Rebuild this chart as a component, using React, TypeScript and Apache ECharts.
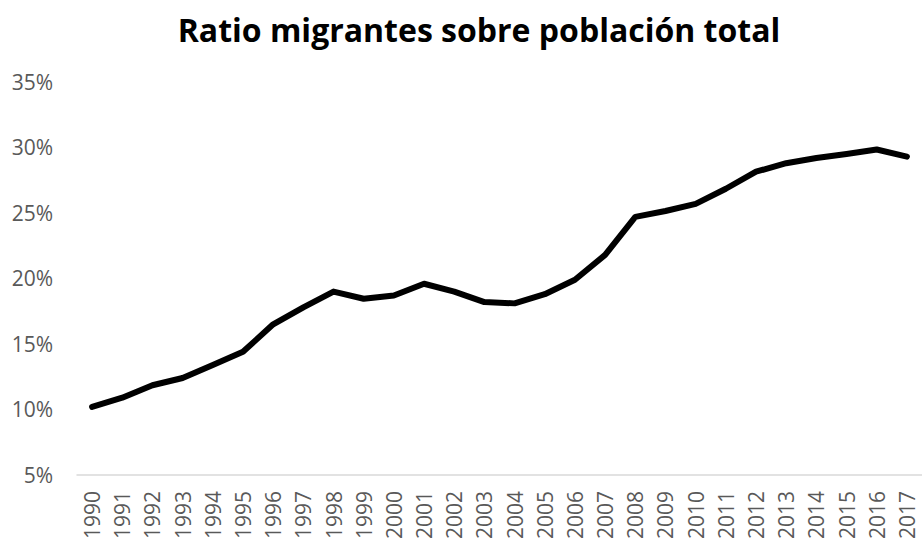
import React, { useEffect, useRef } from "react";
import * as echarts from "echarts";

const years = [
  "1990", "1991", "1992", "1993", "1994", "1995", "1996", "1997", "1998", "1999",
  "2000", "2001", "2002", "2003", "2004", "2005", "2006", "2007", "2008", "2009",
  "2010", "2011", "2012", "2013", "2014", "2015", "2016", "2017",
];
const ratio = [
  10.2, 10.9, 11.85, 12.4, 13.4, 14.4, 16.5, 17.8, 19.0, 18.45,
  18.7, 19.6, 19.0, 18.2, 18.1, 18.8, 19.9, 21.8, 24.7, 25.15,
  25.7, 26.85, 28.15, 28.8, 29.2, 29.5, 29.85, 29.3,
];
const titleText = "Ratio migrantes sobre población total";

export default function App() {
  const ref = useRef<HTMLDivElement>(null);
  useEffect(() => {
    if (!ref.current) return;
    const chart = echarts.init(ref.current, null, { renderer: "svg" });
    chart.setOption({
      animation: false,
      backgroundColor: "#ffffff",
      title: {
        text: titleText,
        left: 474,
        textAlign: "center",
        top: 8,
        textStyle: {
          fontFamily: "Open Sans",
          fontWeight: "bold",
          fontSize: 32,
          color: "#000000",
        },
      },
      grid: { left: 77, right: -5, top: 82, bottom: 66, containLabel: false },
      xAxis: {
        type: "category",
        data: years,
        boundaryGap: true,
        axisLine: { show: true, lineStyle: { color: "#d9d9d9", width: 1.5 } },
        axisTick: { show: false },
        axisLabel: {
          rotate: 90,
          interval: 0,
          margin: 16,
          color: "#595959",
          fontFamily: "Open Sans",
          fontSize: 21,
        },
        splitLine: { show: false },
      },
      yAxis: {
        type: "value",
        min: 5,
        max: 35,
        interval: 5,
        axisLine: { show: false },
        axisTick: { show: false },
        splitLine: { show: false },
        axisLabel: {
          formatter: "{value}%",
          margin: 24,
          color: "#595959",
          fontFamily: "Open Sans",
          fontSize: 21,
        },
      },
      series: [
        {
          type: "line",
          data: ratio,
          symbol: "none",
          lineStyle: { color: "#000000", width: 6, cap: "round", join: "round" },
        },
      ],
    });
    return () => chart.dispose();
  }, []);
  return <div ref={ref} style={{ width: 922, height: 542, position: "absolute", left: 0, top: 0 }} />;
}
